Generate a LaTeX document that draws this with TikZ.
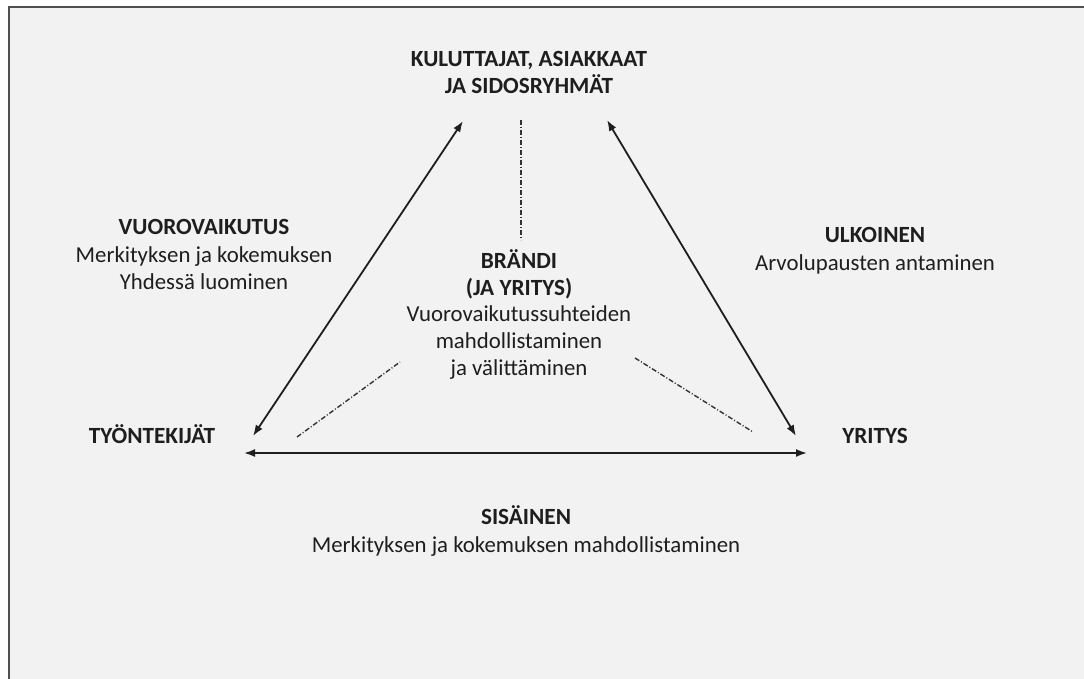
\documentclass[tikz,border=0pt]{standalone}
\usepackage{fontspec}
\setmainfont{Carlito}
\usetikzlibrary{arrows.meta}
\definecolor{bg}{HTML}{F2F2F2}
\definecolor{framec}{HTML}{505050}
\definecolor{ink}{HTML}{1E1E1E}
\begin{document}
\begin{tikzpicture}[x=1pt,y=-1pt,
  lbl/.style={anchor=base,inner sep=0pt,text=ink,font=\fontsize{22.8}{26}\selectfont},
  hd/.style={anchor=base,inner sep=0pt,text=ink,font=\fontsize{23.2}{26}\selectfont\bfseries},
  arr/.style={draw=ink,line width=1.8pt,{Latex[length=11pt,width=8pt]}-{Latex[length=11pt,width=8pt]}},
  dd/.style={draw=gray!40!black,line width=1.4pt,dash pattern=on 5pt off 2pt on 1pt off 2pt}]
\useasboundingbox (0,0) rectangle (1084,679);
\fill[white] (0,0) rectangle (1084,679);
\draw[fill=bg,draw=framec,line width=2.5pt] (9,7) rectangle (1100,700);

% top title
\node[hd] (top1) at (529,67) {KULUTTAJAT, ASIAKKAAT};
\node[hd] (top2) at (529,94) {JA SIDOSRYHMÄT};

% corners
\node[hd] (tyo) at (152,443) {TYÖNTEKIJÄT};
\node[hd] (yri) at (875,443) {YRITYS};

% left side label
\node[hd] (vuo1) at (204,235) {VUOROVAIKUTUS};
\node[lbl] (vuo2) at (204,262) {Merkityksen ja kokemuksen};
\node[lbl] (vuo3) at (204,289) {Yhdessä luominen};

% right side label
\node[hd] (ulk1) at (875,243) {ULKOINEN};
\node[lbl] (ulk2) at (875,270) {Arvolupausten antaminen};

% centre
\node[hd] (bra1) at (519,268) {BRÄNDI};
\node[hd] (bra2) at (519,295) {(JA YRITYS)};
\node[lbl] (bra3) at (519,321) {Vuorovaikutussuhteiden};
\node[lbl] (bra4) at (519,348) {mahdollistaminen};
\node[lbl] (bra5) at (519,375) {ja välittäminen};

% bottom
\node[hd] (sis1) at (526,524) {SISÄINEN};
\node[lbl] (sis2) at (526,552) {Merkityksen ja kokemuksen mahdollistaminen};

% arrow end points
\coordinate (lt) at (463,121);
\coordinate (lb) at (253,436);
\coordinate (rt) at (607,120);
\coordinate (rb) at (796,436);
\coordinate (bl) at (244,453);
\coordinate (br) at (807,453);
\draw[arr] (lt) -- (lb);
\draw[arr] (rt) -- (rb);
\draw[arr] (bl) -- (br);

% dash-dot lines
\coordinate (vt) at (521,120);
\coordinate (vb) at (521,240);
\coordinate (l1) at (297,437);
\coordinate (l2) at (400,362);
\coordinate (r1) at (635,358);
\coordinate (r2) at (753,432);
\draw[dd] (vt) -- (vb);
\draw[dd] (l1) -- (l2);
\draw[dd] (r1) -- (r2);
\end{tikzpicture}
\end{document}
